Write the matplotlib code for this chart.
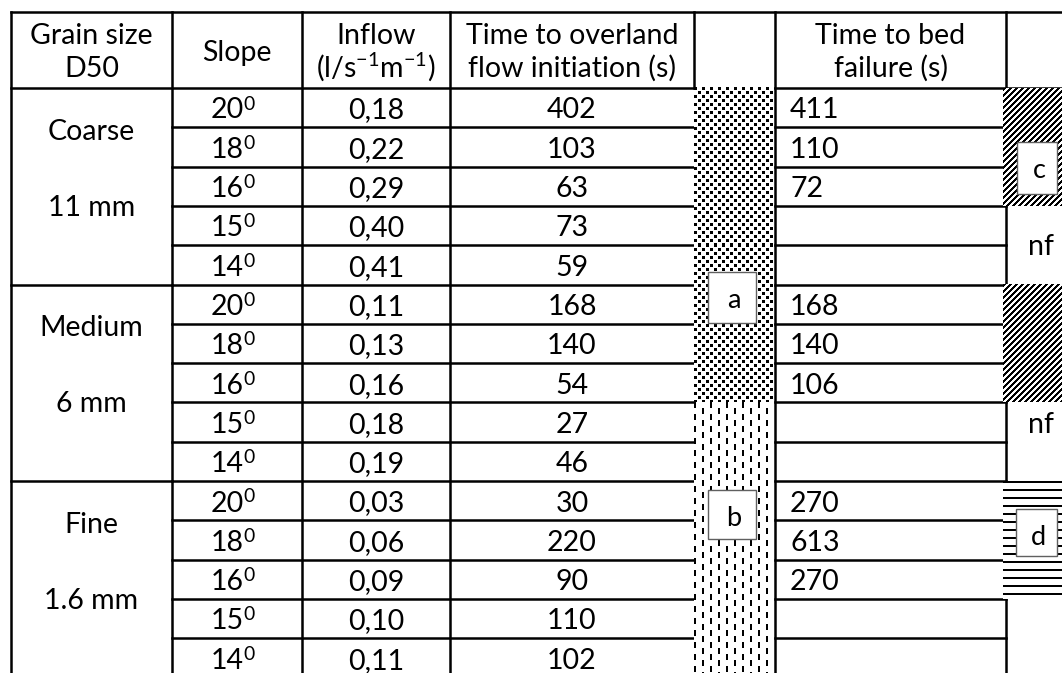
import numpy as np
import matplotlib
matplotlib.use("Agg")
import matplotlib.pyplot as plt
from matplotlib.patches import Rectangle

plt.rcParams['font.family'] = ['Lato', 'DejaVu Sans']

# ---------------------------------
# Table data
# ---------------------------------
grain_names = ["Coarse", "Medium", "Fine"]
grain_sizes = ["11 mm", "6 mm", "1.6 mm"]
slopes = [20, 18, 16, 15, 14]
inflow = [0.18, 0.22, 0.29, 0.40, 0.41,
          0.11, 0.13, 0.16, 0.18, 0.19,
          0.03, 0.06, 0.09, 0.10, 0.11]
overland_time = [402, 103, 63, 73, 59,
                 168, 140, 54, 27, 46,
                 30, 220, 90, 110, 102]
bed_failure = [411, 110, 72, None, None,
               168, 140, 106, None, None,
               270, 613, 270, None, None]

# (label, first row, last row + 1)
overland_classes = [("a", 0, 8), ("b", 8, 15)]
failure_classes = [("c", 0, 3), ("nf", 3, 5), ("c", 5, 8),
                   ("nf", 8, 10), ("d", 10, 13)]

# ---------------------------------
# Layout (pixels)
# ---------------------------------
W, H = 1062, 673
TOP = 12
HEAD = 88
ROW_H = 39.3
COLS = [11, 172, 302, 450, 694, 775, 1006]
LW = 1.8
FS = 20.5


def tile_from(rows):
    return np.array([[1.0 if ch == "#" else 0.0 for ch in r] for r in rows])


TILES = {
    "a": tile_from(["###.....",
                    "###.....",
                    "###.....",
                    "........",
                    "....###.",
                    "....###.",
                    "....###.",
                    "........"]),
    "b": tile_from(["##......", "##......", "##......", "##......",
                    "##......", "##......",
                    "........", "........", "........", "........",
                    "........", "........"]),
    "c": np.array([[1.0 if (r + c) % 6 in (0, 1, 2) else 0.0 for c in range(6)]
                   for r in range(6)]),
    "d": tile_from(["##", "##", "..", "..", "..", "..", "..", ".."]),
}


def pattern(ax, key, x0, x1, y0, y1):
    tile = TILES[key]
    if key == "b":
        # stagger the dash columns
        shifted = np.roll(tile, 6, axis=0)
        tile = np.hstack([tile, shifted])
    w = int(round(x1 - x0))
    h = int(round(y1 - y0))
    reps = (h // tile.shape[0] + 2, w // tile.shape[1] + 2)
    img = np.tile(tile, reps)[:h, :w]
    ax.imshow(img, cmap="gray_r", vmin=0, vmax=1, interpolation="nearest",
              extent=(x0, x1, y1, y0), zorder=3)


def label_box(ax, text, x, y, w, h):
    ax.add_patch(Rectangle((x, y), w, h, facecolor="white",
                           edgecolor="#606060", lw=1.0, zorder=4))
    ax.text(x + w / 2 + 2, y + 36, text, ha="center", va="baseline",
            fontsize=FS - 1, zorder=5)


def degree_text(ax, cx, base, value):
    # number with a raised small "0", as in the source table
    ax.text(cx + 7, base, str(value), ha="right", va="baseline", fontsize=FS)
    ax.text(cx + 6.5, base - 9, "0", ha="left", va="baseline", fontsize=FS * 0.68)


def row_y(i):
    return HEAD + ROW_H * i


def main():
    fig = plt.figure(figsize=(W / 100, H / 100), dpi=100)
    ax = fig.add_axes([0, 0, 1, 1])

    # Header texts
    ax.text((COLS[0] + COLS[1]) / 2, 44, "Grain size", ha="center", va="baseline", fontsize=FS)
    ax.text((COLS[0] + COLS[1]) / 2, 77, "D50", ha="center", va="baseline", fontsize=FS)
    ax.text((COLS[1] + COLS[2]) / 2, 61, "Slope", ha="center", va="baseline", fontsize=FS)
    ax.text((COLS[2] + COLS[3]) / 2, 44, "Inflow", ha="center", va="baseline", fontsize=FS)
    ax.text((COLS[2] + COLS[3]) / 2, 77, r"$\mathregular{(l/s^{-1}m^{-1})}$",
            ha="center", va="baseline", fontsize=FS)
    ax.text((COLS[3] + COLS[4]) / 2, 44, "Time to overland", ha="center", va="baseline", fontsize=FS)
    ax.text((COLS[3] + COLS[4]) / 2, 77, "flow initiation (s)", ha="center", va="baseline", fontsize=FS)
    ax.text((COLS[5] + COLS[6]) / 2, 44, "Time to bed", ha="center", va="baseline", fontsize=FS)
    ax.text((COLS[5] + COLS[6]) / 2, 77, "failure (s)", ha="center", va="baseline", fontsize=FS)

    # Grain size groups
    n_rows = len(inflow)
    per_group = len(slopes)
    for g, (name, size) in enumerate(zip(grain_names, grain_sizes)):
        gy = row_y(g * per_group)
        ax.text((COLS[0] + COLS[1]) / 2, gy + 52, name, ha="center", va="baseline", fontsize=FS)
        ax.text((COLS[0] + COLS[1]) / 2, gy + 128, size, ha="center", va="baseline", fontsize=FS)

    # Row values
    for i in range(n_rows):
        base = row_y(i) + 30.5
        degree_text(ax, (COLS[1] + COLS[2]) / 2, base, slopes[i % per_group])
        ax.text((COLS[2] + COLS[3]) / 2, base, f"{inflow[i]:.2f}".replace(".", ","),
                ha="center", va="baseline", fontsize=FS)
        ax.text((COLS[3] + COLS[4]) / 2, base, str(overland_time[i]),
                ha="center", va="baseline", fontsize=FS)
        if bed_failure[i] is not None:
            ax.text(COLS[5] + 15, base, str(bed_failure[i]),
                    ha="left", va="baseline", fontsize=FS)

    # Grid lines
    ax.plot([COLS[0], W], [TOP, TOP], color="black", lw=LW)
    ax.plot([COLS[0], W], [HEAD, HEAD], color="black", lw=LW)
    for x in [COLS[0], COLS[1], COLS[2], COLS[3], COLS[5], COLS[6]]:
        ax.plot([x, x], [TOP, H], color="black", lw=LW)
    ax.plot([COLS[4], COLS[4]], [TOP, HEAD], color="black", lw=LW)
    for i in range(1, n_rows):
        y = row_y(i)
        ax.plot([COLS[1], COLS[4]], [y, y], color="black", lw=LW)
        ax.plot([COLS[5], COLS[6]], [y, y], color="black", lw=LW)
        if i % per_group == 0:
            ax.plot([COLS[0], COLS[1]], [y, y], color="black", lw=LW)

    # Classification columns
    for key, r0, r1 in overland_classes:
        pattern(ax, key, COLS[4], COLS[5] - 1, row_y(r0), row_y(r1) if r1 < n_rows else H)
    label_box(ax, "a", 708, 272, 48, 51)
    label_box(ax, "b", 708, 490, 48, 49)

    nf_base = [255, 433]
    k = 0
    for key, r0, r1 in failure_classes:
        if key == "nf":
            ax.text(1041, nf_base[k], "nf", ha="center", va="baseline", fontsize=FS)
            k += 1
        else:
            pattern(ax, key, COLS[6] - 3, W, row_y(r0), row_y(r1))
    label_box(ax, "c", 1017, 142, 40, 52)
    label_box(ax, "d", 1016, 509, 41, 47)

    ax.set_xlim(0, W)
    ax.set_ylim(H, 0)
    ax.set_aspect("auto")
    ax.axis("off")

    fig.savefig("out.png", dpi=100)


if __name__ == "__main__":
    main()
